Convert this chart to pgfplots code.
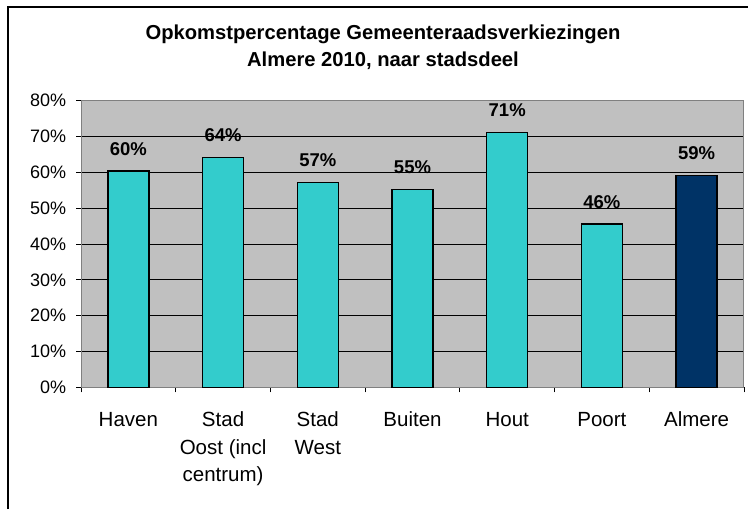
\documentclass[border=0pt]{standalone}
\usepackage{pgfplots}
\pgfplotsset{compat=1.18}
\usepackage{fontspec}
\setmainfont{Liberation Sans}
\definecolor{barcyan}{HTML}{33CCCC}
\definecolor{barnavy}{HTML}{003366}
\definecolor{plotgray}{HTML}{C0C0C0}
\definecolor{bordergray}{HTML}{808080}
\begin{document}
\begin{tikzpicture}
\begin{axis}[
  at={(40.5pt,60.85pt)}, anchor=south west,
  width=331.5pt, height=143.3pt, scale only axis,
  xmin=-0.5, xmax=6.5, ymin=0, ymax=80,
  ybar, bar width=0.433, bar shift=0pt,
  axis background/.style={fill=plotgray},
  axis line style={draw=bordergray, line width=0.5pt},
  ytick={0,10,...,80},
  yticklabels={0\%,10\%,20\%,30\%,40\%,50\%,60\%,70\%,80\%},
  ymajorgrids, grid style={black, line width=0.45pt},
  xtick={0,...,6},
  xticklabels={Haven, Stad\\Oost (incl\\centrum), Stad\\West, Buiten, Hout, Poort, Almere},
  minor xtick={-0.5,0.5,...,6.5},
  xtick pos=bottom, ytick pos=left,
  tick align=outside, major tick length=2.5pt, minor tick length=2.5pt,
  tick style={black, line width=0.45pt},
  major x tick style={draw=none},
  y tick label style={font=\fontsize{9}{11}\selectfont, inner sep=0pt, anchor=east, xshift=-4.7pt},
  x tick label style={font=\fontsize{10.25}{13.75}\selectfont, align=center, inner sep=0pt, anchor=north, yshift=-9.7pt},
  /pgf/number format/assume math mode=true,
  nodes near coords={\pgfmathprintnumber[fixed,precision=0]{\pgfplotspointmeta}\%},
  every node near coord/.append style={font=\fontsize{9.25}{11}\selectfont\bfseries, anchor=base, inner sep=0pt, yshift=7.85pt},
]
\addplot[fill=barcyan, draw=black, line width=0.65pt] coordinates {(0,60.4) (1,64.1) (2,57.2) (3,55.3) (4,71.2) (5,45.6)};
\addplot[fill=barnavy, draw=black, line width=0.65pt] coordinates {(6,59.2)};
\end{axis}
\node[anchor=base, font=\fontsize{10.1}{12}\selectfont\bfseries] at (191.5pt,234.5pt) {Opkomstpercentage Gemeenteraadsverkiezingen};
\node[anchor=base, font=\fontsize{10.1}{12}\selectfont\bfseries] at (191.5pt,221.15pt) {Almere 2010, naar stadsdeel};
\draw[line width=1pt] (4pt,0pt) -- (4pt,251pt) -- (374pt,251pt);
\pgfresetboundingbox
\useasboundingbox (0pt,0pt) rectangle (374pt,254.5pt);
\end{tikzpicture}
\end{document}
